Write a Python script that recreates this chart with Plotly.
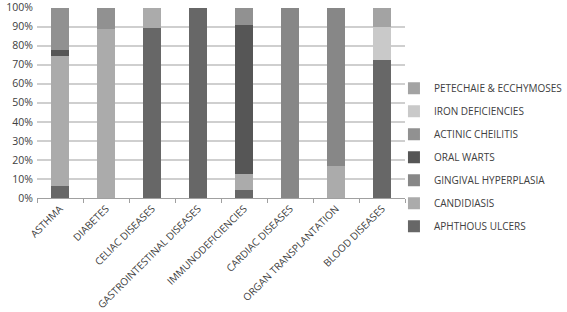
import plotly.graph_objects as go

categories = ["ASTHMA", "DIABETES", "CELIAC DISEASES", "GASTROINTESTINAL DISEASES",
              "IMMUNODEFICIENCIES", "CARDIAC DISEASES", "ORGAN TRANSPLANTATION", "BLOOD DISEASES"]

aphthous_ulcers = [6.5, 0, 89.5, 100, 4, 0, 0, 72.5]
candidiasis = [68, 88.5, 10.5, 0, 8.5, 0, 17, 0]
gingival_hyperplasia = [0, 0, 0, 0, 0, 100, 83, 0]
oral_warts = [3, 0, 0, 0, 78.5, 0, 0, 0]
actinic_cheilitis = [22.5, 11.5, 0, 0, 9, 0, 0, 0]
iron_deficiencies = [0, 0, 0, 0, 0, 0, 0, 17.5]
petechiae = [0, 0, 0, 0, 0, 0, 0, 10]

series = [
    ("APHTHOUS ULCERS", aphthous_ulcers, "#676767"),
    ("CANDIDIASIS", candidiasis, "#ababab"),
    ("GINGIVAL HYPERPLASIA", gingival_hyperplasia, "#878787"),
    ("ORAL WARTS", oral_warts, "#565656"),
    ("ACTINIC CHEILITIS", actinic_cheilitis, "#919191"),
    ("IRON DEFICIENCIES", iron_deficiencies, "#c9c9c9"),
    ("PETECHAIE & ECCHYMOSES", petechiae, "#a3a3a3"),
]

fig = go.Figure()
n = len(series)
for i, (name, vals, col) in enumerate(series):
    fig.add_trace(go.Bar(x=categories, y=vals, name=name, marker_color=col,
                         marker_line_width=0, legendgroup=str(i),
                         legendrank=1000 + (n - i)))

fig.update_layout(
    barmode="stack",
    bargap=0.6,
    width=567, height=312,
    margin=dict(l=37, r=162, t=7, b=114, autoexpand=False),
    paper_bgcolor="white", plot_bgcolor="white",
    font=dict(family="Open Sans", size=10, color="#404040"),
    legend=dict(x=0.97, y=0.65, yanchor="top", xanchor="left",
                traceorder="grouped", tracegroupgap=4,
                bgcolor="rgba(0,0,0,0)",
                font=dict(size=10, color="#404040"),
                itemwidth=30),
    showlegend=True,
)
fig.update_xaxes(tickangle=-45, tickson="boundaries", ticks="outside", ticklen=4,
                 tickcolor="#a0a0a0", showline=True, linecolor="#a0a0a0",
                 linewidth=1, tickfont=dict(size=10.1), automargin=False)
fig.update_yaxes(range=[0, 100.3], dtick=10, ticksuffix="%", showgrid=True,
                 gridcolor="#cfcfcf", gridwidth=2, zeroline=False,
                 tickfont=dict(size=10.5), automargin=False, ticklabelstandoff=3,
                 ticklabeloverflow="allow")

fig.write_html("out.html", config={"displayModeBar": False},
               post_script="document.body.style.margin='0';document.body.style.padding='0';")
